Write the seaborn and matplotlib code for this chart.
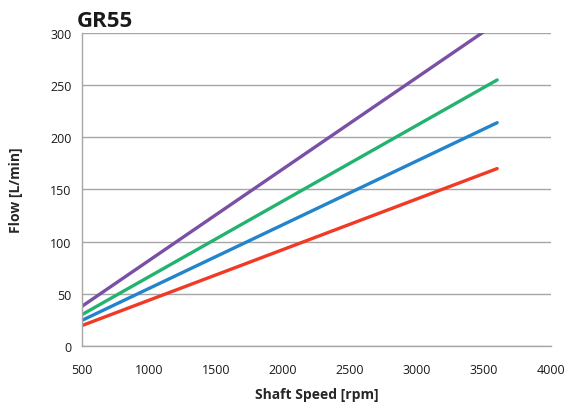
import matplotlib
matplotlib.use("Agg")
import matplotlib.pyplot as plt
import seaborn as sns
import pandas as pd

speed = [500, 3600]
purple = [38, 310]
green = [30, 255]
blue = [24.5, 214]
red = [19.5, 170]
series_names = ["purple", "green", "blue", "red"]
colors = {"purple": "#7A4FA6", "green": "#23B36E", "blue": "#2384CC", "red": "#F03A26"}

rows = []
for name, vals in zip(series_names, [purple, green, blue, red]):
    for s, v in zip(speed, vals):
        rows.append({"speed": s, "flow": v, "series": name})
df = pd.DataFrame(rows)

sns.set_style("white")
plt.rcParams['font.family'] = ['Open Sans', 'DejaVu Sans']

fig = plt.figure(figsize=(5.66, 4.10), dpi=100)
ax = fig.add_axes([0.145, 0.154, 0.828, 0.763])
sns.lineplot(data=df, x="speed", y="flow", hue="series", palette=colors,
             linewidth=2.4, legend=False, ax=ax)

ax.set_xlim(500, 4000)
ax.set_ylim(0, 300)
ax.set_xticks(range(500, 4001, 500))
ax.set_yticks(range(0, 301, 50))
ax.yaxis.grid(True, color="#A6A6A6", linewidth=1.0)
ax.set_axisbelow(True)
for sp in ["top", "right"]:
    ax.spines[sp].set_visible(False)
for sp in ["left", "bottom"]:
    ax.spines[sp].set_color("#A6A6A6")
    ax.spines[sp].set_linewidth(1.0)
ax.tick_params(axis="both", colors="#A6A6A6", labelcolor="#1a1a1a", labelsize=9,
               direction="out", length=4, width=1)
ax.tick_params(axis="x", pad=8)
ax.set_xlabel("Shaft Speed [rpm]", fontsize=10, fontweight="bold", labelpad=8)
ax.set_ylabel("Flow [L/min]", fontsize=10, fontweight="bold", labelpad=20)
fig.text(0.136, 0.935, "GR55", fontsize=16, fontweight="bold", color="#1a1a1a")

fig.savefig("out.png", dpi=100)
